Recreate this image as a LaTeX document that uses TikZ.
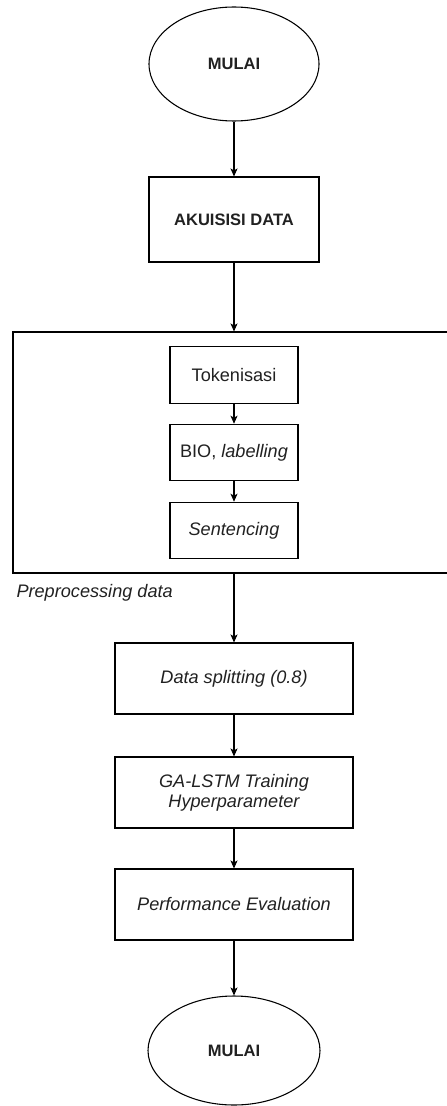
\documentclass[tikz,border=0pt]{standalone}
\usepackage{fontspec}
\setmainfont{Liberation Sans}
\usetikzlibrary{arrows.meta,shapes.geometric}
\begin{document}
\begin{tikzpicture}[x=0.75pt,y=-0.75pt,
  line width=0.8pt,
  every node/.style={text=black!87},
  term/.style={ellipse,draw,minimum width=170*0.75pt,minimum height=114*0.75pt,inner sep=0pt,font=\fontsize{12.4}{15}\selectfont\bfseries},
  bigbox/.style={rectangle,draw,minimum width=170*0.75pt,minimum height=85*0.75pt,inner sep=0pt,font=\fontsize{12.4}{15}\selectfont\bfseries},
  smallbox/.style={rectangle,draw,minimum width=128*0.75pt,minimum height=56.5*0.75pt,inner sep=0pt,font=\fontsize{13.6}{15}\selectfont},
  widebox/.style={rectangle,draw,minimum width=238*0.75pt,minimum height=71*0.75pt,inner sep=0pt,align=center,font=\fontsize{13.6}{15.2}\selectfont\itshape},
  frame/.style={rectangle,draw,minimum width=450*0.75pt,minimum height=241*0.75pt,inner sep=0pt},
  lbl/.style={anchor=west,inner sep=0pt,font=\fontsize{13.6}{15}\selectfont\itshape},
  arr/.style={-{Stealth[length=8*0.75pt,width=7*0.75pt,inset=2*0.75pt]}}
]
\useasboundingbox (0,0) rectangle (446,1106);
\node[term] (start) at (234,64) {MULAI};
\node[bigbox] (akuisisi) at (234,219.5) {AKUISISI DATA};
\node[frame] (pre) at (238,452.5) {};
\node[smallbox] (tok) at (234,375) {Tokenisasi};
\node[smallbox] (bio) at (234,452.5) {BIO, \textit{labelling}};
\node[smallbox] (sent) at (234,530.5) {\textit{Sentencing}};
\node[lbl] (prelbl) at (16,593) {Preprocessing data};
\node[widebox] (split) at (234,678.5) {Data splitting (0.8)};
\node[widebox] (ga) at (234,792.5) {GA-LSTM Training\\Hyperparameter};
\node[widebox] (perf) at (234,904.5) {Performance Evaluation};
\node[term,minimum width=172*0.75pt,minimum height=109*0.75pt] (end) at (234,1050.5) {MULAI};

\draw[arr] (start) -- (akuisisi);
\draw[arr] (akuisisi.south) -- (akuisisi.south |- pre.north);
\draw[arr] (tok) -- (bio);
\draw[arr] (bio) -- (sent);
\draw[arr] (akuisisi.south |- pre.south) -- (split.north);
\draw[arr] (split) -- (ga);
\draw[arr] (ga) -- (perf);
\draw[arr] (perf) -- (end);
\end{tikzpicture}
\end{document}
